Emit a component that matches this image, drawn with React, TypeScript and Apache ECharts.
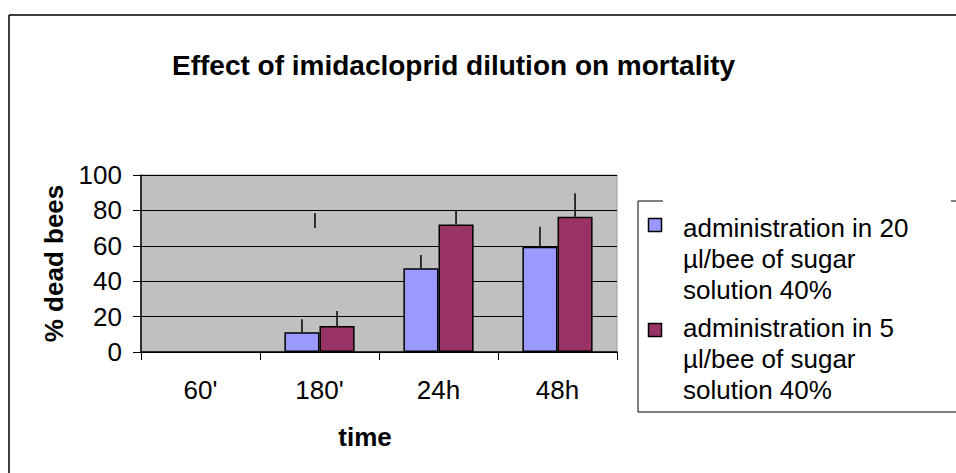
import React, { useEffect, useRef } from "react";
import * as echarts from "echarts";

const titleText = "Effect of imidacloprid dilution on mortality";
const xAxisName = "time";
const yAxisName = "% dead bees";
const categories = ["60'", "180'", "24h", "48h"];
const seriesNames = [
  "administration in 20 µl/bee of sugar solution 40%",
  "administration in 5 µl/bee of sugar solution 40%",
];
const legendLines20 = ["administration in 20", "µl/bee of sugar", "solution 40%"];
const legendLines5 = ["administration in 5", "µl/bee of sugar", "solution 40%"];
const mean20 = [0, 11.1, 47.3, 59.5];
const mean5 = [0, 14.7, 72.1, 76.4];
const errUp20 = [0, 7.4, 7.5, 11.3];
const errUp5 = [0, 8.5, 7.6, 13.3];
const strayCategory = [1];
const strayFrom = [70];
const strayTo = [78.5];
const yMin = 0;
const yMax = 100;
const yInterval = 20;

const colors = ["#9999FF", "#993366"];
const FONT = "'Liberation Sans', Arial, sans-serif";
const CAT_GAP = 0.41;

function errData(means: number[], errs: number[]) {
  return means
    .map((m, i) => [i, m, m + errs[i]])
    .filter((d) => d[2] > d[1]);
}

function barData(means: number[]) {
  return means.map((v) => (v === 0 ? { value: v, itemStyle: { borderWidth: 0 } } : v));
}

function makeErrRender(side: number) {
  return (params: any, api: any) => {
    const idx = api.value(0);
    const v = api.value(1);
    const up = api.value(2);
    const catW = api.size([1, 0])[0];
    const barW = (catW * (1 - CAT_GAP)) / 2;
    const p0 = api.coord([idx, v]);
    const p1 = api.coord([idx, up]);
    const x = p0[0] + side * barW * 0.5;
    return {
      type: "line",
      shape: { x1: x, y1: p0[1], x2: x, y2: p1[1] },
      style: { stroke: "#000", lineWidth: 1.5 },
    };
  };
}

export default function App() {
  const ref = useRef<HTMLDivElement>(null);
  useEffect(() => {
    document.body.style.margin = "0";
    document.body.style.overflow = "hidden";
    if (!ref.current) return;
    const chart = echarts.init(ref.current, null, { renderer: "svg" });
    const legendText = (lines: string[]) => lines.join("\n");
    const lineStyle = { stroke: "#000", lineWidth: 1 };
    chart.setOption({
      animation: false,
      backgroundColor: "#fff",
      textStyle: { fontFamily: FONT },
      title: {
        text: titleText,
        left: 172,
        top: 51,
        padding: 0,
        textStyle: { fontSize: 28, fontWeight: "bold", color: "#000", fontFamily: FONT },
      },
      grid: {
        left: 141,
        right: 339,
        top: 175,
        bottom: 121,
        show: true,
        backgroundColor: "#C0C0C0",
        borderColor: "#9a9a9a",
        borderWidth: 1,
      },
      xAxis: {
        type: "category",
        data: categories,
        name: xAxisName,
        nameLocation: "middle",
        nameGap: 72,
        nameTextStyle: {
          fontSize: 26,
          fontWeight: "bold",
          color: "#000",
          fontFamily: FONT,
          padding: [0, 28, 0, 0],
        },
        axisLine: { show: true, lineStyle: { color: "#000", width: 1.5 } },
        axisTick: { show: true, interval: 0, length: 8, lineStyle: { color: "#000", width: 1 } },
        axisLabel: { fontSize: 26, color: "#000", margin: 25, fontFamily: FONT, interval: 0 },
        splitLine: { show: false },
      },
      yAxis: {
        type: "value",
        min: yMin,
        max: yMax,
        interval: yInterval,
        name: yAxisName,
        nameLocation: "middle",
        nameGap: 74,
        nameTextStyle: { fontSize: 26, fontWeight: "bold", color: "#000", fontFamily: FONT },
        axisLine: { show: true, lineStyle: { color: "#000", width: 1.5 } },
        axisTick: { show: true, length: 8, lineStyle: { color: "#000", width: 1 } },
        axisLabel: { fontSize: 26, color: "#000", margin: 19, fontFamily: FONT },
        splitLine: { show: true, lineStyle: { color: "#000", width: 1.2 } },
      },
      series: [
        {
          name: seriesNames[0],
          type: "bar",
          data: barData(mean20),
          barGap: "0%",
          barCategoryGap: CAT_GAP * 100 + "%",
          itemStyle: { color: colors[0], borderColor: "#000", borderWidth: 1.5 },
          z: 2,
        },
        {
          name: seriesNames[1],
          type: "bar",
          data: barData(mean5),
          barGap: "0%",
          barCategoryGap: CAT_GAP * 100 + "%",
          itemStyle: { color: colors[1], borderColor: "#000", borderWidth: 1.5 },
          z: 2,
        },
        {
          type: "custom",
          name: "err20",
          data: errData(mean20, errUp20),
          encode: { x: 0, y: [1, 2] },
          renderItem: makeErrRender(-1),
          z: 5,
          silent: true,
        },
        {
          type: "custom",
          name: "err5",
          data: errData(mean5, errUp5),
          encode: { x: 0, y: [1, 2] },
          renderItem: makeErrRender(1),
          z: 5,
          silent: true,
        },
        {
          type: "custom",
          name: "stray",
          data: strayCategory.map((c, i) => [c, strayFrom[i], strayTo[i]]),
          encode: { x: 0, y: [1, 2] },
          renderItem: (params: any, api: any) => {
            const p0 = api.coord([api.value(0), api.value(1)]);
            const p1 = api.coord([api.value(0), api.value(2)]);
            const x = p0[0] - 4.5;
            return {
              type: "line",
              shape: { x1: x, y1: p0[1], x2: x, y2: p1[1] },
              style: { stroke: "#000", lineWidth: 1.5 },
            };
          },
          z: 5,
          silent: true,
        },
      ],
      graphic: [
        {
          type: "rect",
          z: 100,
          shape: { x: 925, y: 17, width: 31, height: 182 },
          style: { fill: "#fff", stroke: "none" },
          silent: true,
        },
        { type: "line", z: 101, shape: { x1: 9, y1: 15, x2: 956, y2: 15 }, style: { stroke: "#000", lineWidth: 1.5 } },
        { type: "line", z: 101, shape: { x1: 9, y1: 15, x2: 9, y2: 473 }, style: { stroke: "#000", lineWidth: 1.5 } },
        { type: "line", z: 101, shape: { x1: 638, y1: 201, x2: 638, y2: 412 }, style: lineStyle },
        { type: "line", z: 101, shape: { x1: 638, y1: 412, x2: 956, y2: 412 }, style: lineStyle },
        { type: "line", z: 101, shape: { x1: 638, y1: 201, x2: 663, y2: 201 }, style: lineStyle },
        { type: "line", z: 101, shape: { x1: 951, y1: 201, x2: 956, y2: 201 }, style: lineStyle },
        {
          type: "rect",
          z: 101,
          shape: { x: 648.5, y: 218.5, width: 13, height: 13 },
          style: { fill: colors[0], stroke: "#000", lineWidth: 1.5 },
        },
        {
          type: "text",
          z: 101,
          x: 683,
          y: 212,
          style: {
            text: legendText(legendLines20),
            font: "26px " + FONT,
            fill: "#000",
            lineHeight: 31,
            verticalAlign: "top",
            align: "left",
          },
        },
        {
          type: "rect",
          z: 101,
          shape: { x: 648.5, y: 323.5, width: 13, height: 13 },
          style: { fill: colors[1], stroke: "#000", lineWidth: 1.5 },
        },
        {
          type: "text",
          z: 101,
          x: 683,
          y: 312,
          style: {
            text: legendText(legendLines5),
            font: "26px " + FONT,
            fill: "#000",
            lineHeight: 31,
            verticalAlign: "top",
            align: "left",
          },
        },
      ],
    });
    return () => chart.dispose();
  }, []);
  return <div ref={ref} style={{ width: 956, height: 473 }} />;
}
